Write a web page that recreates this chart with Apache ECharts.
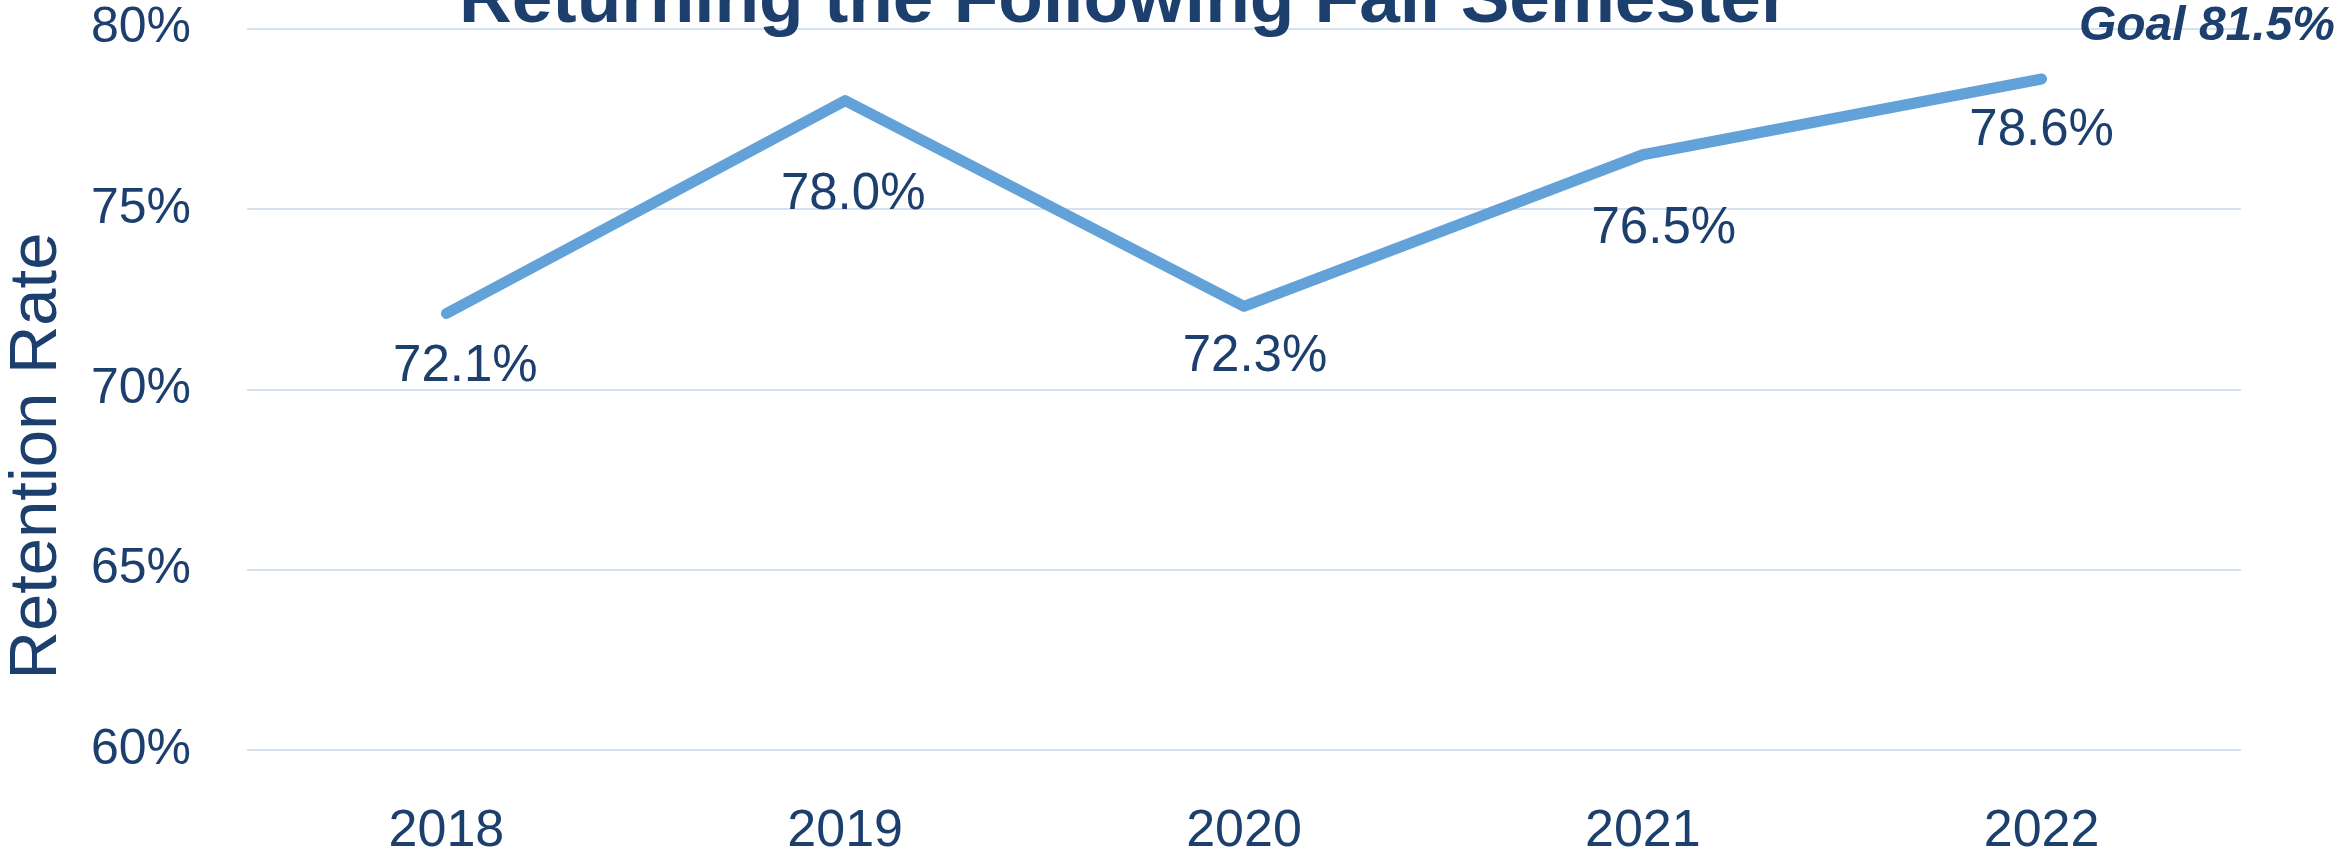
<!DOCTYPE html>
<html>
<head>
<meta charset="utf-8">
<script src="https://cdn.jsdelivr.net/npm/echarts@6/dist/echarts.min.js"></script>
<style>
html,body{margin:0;padding:0;background:#ffffff;}
#chart{width:2348px;height:850px;}
</style>
</head>
<body>
<div id="chart"></div>
<script>
// ---- data ----
const years = ['2018', '2019', '2020', '2021', '2022'];
const retentionRate = [72.1, 78.0, 72.3, 76.5, 78.6];
const titleText = 'Returning the Following Fall Semester';
const goalText = 'Goal 81.5%';
const yAxisName = 'Retention Rate';

// ---- styles ----
const textColor = '#1c3f6e';
const lineColor = '#62a2d8';
const gridColor = '#d5e1f1';
const FONT = '"Liberation Sans", Arial, sans-serif';
// per-point label nudges (relative to point), style only
const labelNudges = [[19, 53], [8, 94], [11, 51], [21, 74], [0, 52]];

const seriesData = retentionRate.map((v, i) => ({
  value: v,
  label: { offset: labelNudges[i] }
}));

const chart = echarts.init(document.getElementById('chart'), null, { renderer: 'canvas' });
chart.setOption({
  animation: false,
  backgroundColor: '#ffffff',
  title: {
    text: titleText,
    left: 459,
    top: -35,
    padding: 0,
    textStyle: { fontFamily: FONT, fontSize: 73, fontWeight: 'bold', color: textColor }
  },
  grid: { left: 247, right: 107, top: 28.5, bottom: 100, containLabel: false, outerBoundsMode: 'none' },
  xAxis: {
    type: 'category',
    data: years,
    boundaryGap: true,
    axisLine: { show: false },
    axisTick: { show: false },
    axisLabel: { margin: 56, fontFamily: FONT, fontSize: 52, color: textColor }
  },
  yAxis: {
    type: 'value',
    min: 60,
    max: 80,
    interval: 5,
    axisLine: { show: false },
    axisTick: { show: false },
    splitLine: { lineStyle: { color: gridColor, width: 2 } },
    axisLabel: { margin: 56, fontFamily: FONT, fontSize: 50, color: textColor, formatter: '{value}%', padding: [10, 0, 0, 0] }
  },
  graphic: [
    {
      type: 'text',
      x: 38, y: 456,
      rotation: Math.PI / 2,
      style: { text: yAxisName, fill: textColor, font: '67px "Liberation Sans", Arial, sans-serif', textAlign: 'center', textVerticalAlign: 'middle' }
    },
    {
      type: 'text',
      x: 2335, y: 27,
      z: 100,
      style: { text: goalText, fill: textColor, font: 'italic bold 48px "Liberation Sans", Arial, sans-serif', textAlign: 'right', textVerticalAlign: 'middle' }
    }
  ],
  series: [{
    type: 'line',
    data: seriesData,
    symbol: 'circle',
    symbolSize: 2,
    showSymbol: true,
    itemStyle: { color: lineColor },
    lineStyle: { color: lineColor, width: 11, cap: 'round', join: 'round' },
    label: {
      show: true,
      position: 'inside',
      fontFamily: FONT,
      fontSize: 51,
      color: textColor,
      formatter: p => p.value.toFixed(1) + '%'
    },
    emphasis: { disabled: true }
  }]
});
</script>
</body>
</html>
